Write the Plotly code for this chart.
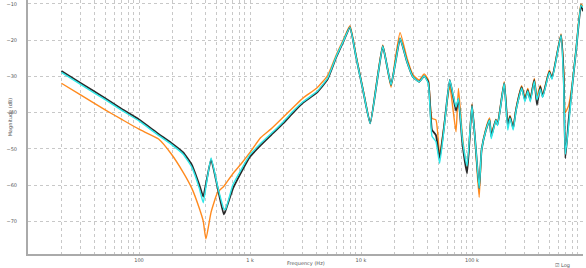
import plotly.graph_objects as go

freq_hz = [20, 30, 50, 70, 100, 150, 194, 250, 300, 350, 379, 401, 446, 512, 580, 600,
           700, 830, 1000, 1250, 1550, 2000, 2500, 3000, 4000, 5000, 6000, 7000, 7950,
           9000, 10500, 12100, 14000, 15700, 17000, 18650, 20500, 22500, 26000, 29300,
           33400, 37100, 40400, 43600, 47300, 51100, 56000, 63000, 68000, 71800, 75500,
           82000, 90300, 100000, 108000, 116000, 122000, 133000, 144000, 149000, 164000,
           170000, 195000, 210000, 220000, 235000, 249000, 280000, 300000, 318000, 335000,
           364000, 385000, 412000, 433000, 497000, 526000, 634000, 670000, 693000, 743000,
           796000, 870000, 959000, 1000000]

black_db = [-28.5, -31.9, -36.1, -39.0, -41.9, -45.9, -48.3, -51.0, -54.5, -60.0, -63.2, -59.7,
            -52.9, -60.9, -68.1, -67.2, -61.1, -56.6, -52.2, -49.0, -46.2, -42.9, -39.7, -37.3,
            -34.5, -30.8, -24.6, -20.1, -16.4, -24.4, -34.3, -43.0, -31.0, -21.6, -26.5, -32.4,
            -25.9, -19.5, -26.0, -30.1, -31.5, -29.9, -31.5, -44.8, -46.2, -52.6, -44.0, -31.0,
            -36.0, -39.5, -36.2, -48.6, -56.8, -37.9, -49.5, -60.9, -50.3, -45.0, -42.0, -46.6,
            -42.0, -43.4, -31.9, -43.5, -41.1, -44.3, -39.3, -33.0, -36.5, -33.8, -36.5, -31.0,
            -37.9, -32.8, -35.6, -28.7, -30.5, -18.6, -30.1, -52.6, -42.0, -33.3, -22.3, -10.3,
            -12.0]

cyan_db = [-28.9, -32.3, -36.5, -39.4, -42.3, -46.3, -48.7, -51.5, -55.2, -61.0, -64.9, -60.5,
           -52.5, -60.5, -66.5, -66.8, -60.0, -55.8, -51.6, -48.5, -45.8, -42.5, -39.3, -37.0,
           -34.2, -30.5, -24.4, -20.0, -16.4, -24.4, -34.3, -43.0, -31.0, -21.6, -26.5, -32.4,
           -25.9, -19.5, -26.0, -30.1, -31.5, -29.9, -32.0, -46.5, -48.0, -54.0, -44.5, -31.0,
           -35.5, -38.5, -36.0, -47.5, -54.8, -38.2, -49.5, -60.9, -50.3, -45.0, -42.0, -47.2,
           -42.0, -43.6, -31.9, -44.8, -41.5, -44.8, -39.5, -33.2, -37.0, -34.0, -37.0, -31.3,
           -36.5, -33.5, -35.8, -28.9, -30.8, -18.6, -32.0, -51.5, -43.5, -33.3, -22.3, -10.3,
           -11.0]

orange_db = [-31.9, -35.2, -39.3, -41.9, -44.6, -47.3, -51.3, -56.5, -61.0, -66.5, -70.0, -74.9,
             -67.5, -62.0, -60.4, -59.8, -56.9, -54.2, -51.0, -46.9, -44.5, -41.2, -38.3, -36.0,
             -33.2, -29.8, -24.0, -19.6, -16.0, -24.0, -34.0, -42.8, -30.5, -21.3, -26.5, -33.0,
             -24.5, -17.9, -25.0, -29.5, -31.0, -29.3, -31.0, -41.6, -42.0, -51.5, -43.5, -32.8,
             -40.0, -45.3, -33.3, -46.5, -55.9, -37.6, -50.5, -63.4, -50.3, -44.5, -41.5, -46.0,
             -41.8, -43.0, -31.5, -43.0, -40.8, -44.0, -39.0, -32.6, -36.0, -33.3, -36.0, -30.6,
             -35.5, -32.5, -35.2, -28.3, -30.2, -18.3, -28.0, -40.0, -38.0, -32.5, -21.8, -10.0,
             -10.6]

y_ticks = [-10, -20, -30, -40, -50, -60, -70]
x_label_vals = [100, 1000, 10000, 100000, 1000000]
x_label_text = ["100", "1 k", "10 k", "100 k", "1 M"]

# grid positions: every 1..9 multiple of each decade
grid_vals = []
grid_text = []
for dec in [10, 100, 1000, 10000, 100000]:
    for m in range(1, 10):
        v = dec * m
        grid_vals.append(v)
        grid_text.append(x_label_text[x_label_vals.index(v)] if v in x_label_vals else "")
grid_vals.append(1000000)
grid_text.append("1 M")

fig = go.Figure()
fig.add_trace(go.Scatter(x=freq_hz, y=orange_db, mode="lines",
                         line=dict(color="#ff8a1e", width=1.4, shape="spline", smoothing=0.5),
                         showlegend=False))
fig.add_trace(go.Scatter(x=freq_hz, y=black_db, mode="lines",
                         line=dict(color="#2a2a2a", width=1.8, shape="spline", smoothing=0.4),
                         showlegend=False))
fig.add_trace(go.Scatter(x=freq_hz, y=cyan_db, mode="lines",
                         line=dict(color="#30e8e8", width=1.4, shape="spline", smoothing=0.4),
                         showlegend=False))

fig.update_layout(
    width=586, height=268,
    margin=dict(l=28, r=3, t=0, b=14, autoexpand=False),
    paper_bgcolor="white", plot_bgcolor="white",
    font=dict(family="DejaVu Sans", size=5, color="#666666"),
    xaxis=dict(type="log", range=[1.0, 6.0], tickvals=grid_vals, ticktext=grid_text,
               automargin=False,
               showgrid=True, gridcolor="#c8c8c8", griddash="dot", gridwidth=1,
               showline=True, linecolor="#aaaaaa", linewidth=2,
               ticks="", tickfont=dict(size=5, color="#555555"), zeroline=False),
    yaxis=dict(range=[-79.06, -8.9], tickvals=y_ticks, automargin=False,
               showgrid=True, gridcolor="#c8c8c8", griddash="dot", gridwidth=1,
               showline=True, linecolor="#aaaaaa", linewidth=2,
               ticks="outside", ticklen=8, tickcolor="rgba(0,0,0,0)",
               tickfont=dict(size=5, color="#555555"), zeroline=False),
)

fig.add_annotation(text="Frequency (Hz)", xref="paper", yref="paper", x=0.5, y=0,
                   yshift=-9, yanchor="middle", showarrow=False,
                   font=dict(size=5, color="#555555"))
fig.add_annotation(text="Magnitude (dB)", xref="paper", yref="paper", x=0, y=0.54,
                   xshift=-23, textangle=-90, showarrow=False,
                   font=dict(size=5, color="#555555"))
fig.add_annotation(text="☑ Log", xref="paper", yref="paper", x=0.98, y=0,
                   yshift=-11, yanchor="middle", showarrow=False,
                   font=dict(size=5, color="#555555"))

fig.write_html("out.html", config={"displayModeBar": False},
               post_script="document.body.style.margin='0';document.body.style.overflow='hidden';")
